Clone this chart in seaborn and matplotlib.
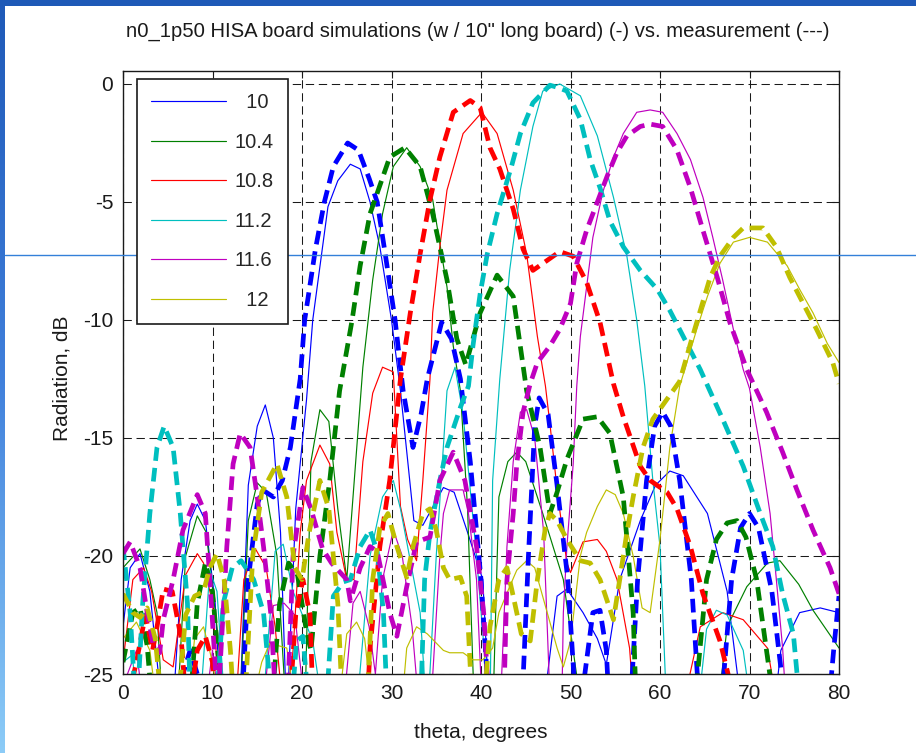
import numpy as np
import pandas as pd
import matplotlib
matplotlib.use('Agg')
import matplotlib.pyplot as plt
import seaborn as sns
from matplotlib.patches import Rectangle
from matplotlib.lines import Line2D
from matplotlib.colors import LinearSegmentedColormap

# ---------------- data (theta [deg], radiation [dB]) ----------------
freqs = ["10", "10.4", "10.8", "11.2", "11.6", "12"]
colors = [(0, 0, 1), (0, 0.5, 0), (1, 0, 0), (0, 0.75, 0.75), (0.75, 0, 0.75), (0.75, 0.75, 0)]

SIM_10 = [(0,-23),(0.8,-20.5),(1.9,-19.9),(3,-21.5),(4.5,-27),(5.5,-27),(6.5,-21),(7.5,-18.5),(8.3,-17.8),(9.2,-18.5),(10.3,-22),(11,-27),(13,-27),(14,-17),(15,-14.5),(15.9,-13.6),(16.8,-15),(17.6,-19),(18.3,-27),(19.3,-18),(20.5,-13.4),(21.2,-10),(22.9,-5.2),(24,-4.1),(25.4,-3.4),(26.5,-3.6),(27.6,-5),(28.7,-6.9),(30,-10),(31,-13),(32.5,-18.5),(33.5,-18.7),(34.5,-18),(35.8,-17.1),(37,-17.3),(38.5,-19),(40.2,-21),(41,-27),(46.8,-27),(48.5,-21.7),(49.6,-21.4),(51.4,-22.4),(53,-23.5),(54,-24.6),(55.5,-21),(57.8,-18.5),(59.5,-17),(61.1,-16.4),(62.6,-16.6),(65.3,-18.2),(67.5,-21.5),(69.3,-27),(72.6,-27),(73.5,-24),(75.6,-22.4),(77.9,-22.2),(80,-22.4)]
SIM_104 = [(0,-20.5),(1.9,-19.7),(3,-21),(3.8,-22.4),(4.5,-27),(6,-27),(7,-20),(8.3,-18.3),(9.3,-19),(10.5,-23),(11.5,-27),(13,-27),(14,-18.5),(15,-16.9),(16,-17.3),(17.2,-20),(18.3,-27),(20.3,-27),(21,-16),(22,-13.8),(23,-14.3),(24,-18),(25,-21),(26,-16),(26.8,-12),(27.9,-8.3),(29,-5.5),(30.2,-3.5),(31.7,-2.7),(33.2,-3.5),(34.6,-4.9),(36.2,-8.6),(36.9,-11.1),(37.7,-13),(38.5,-18),(39.3,-27),(41.3,-27),(42,-17.5),(43,-16),(44,-15.6),(45,-16),(46.9,-18.2),(49.2,-21),(51.4,-27),(66.3,-27),(67.5,-23),(69.7,-21.3),(72,-20.3),(73.4,-20.2),(75.5,-21.2),(77.1,-22.3),(80,-23.9)]
SIM_108 = [(0,-24.5),(1.1,-21),(2.3,-20.5),(3.2,-21.5),(4.5,-24.4),(5.6,-24.7),(7,-20.8),(8.3,-19.9),(9,-20.3),(10,-22),(11,-27),(12.5,-27),(13.5,-21),(14.8,-19.7),(16,-20.5),(17,-23),(18,-27),(19,-24),(19.8,-19),(20.5,-16.8),(22,-15.3),(23.1,-16.1),(23.9,-19),(25,-21),(25.8,-21),(26.8,-16),(27.9,-13.1),(29,-12),(30.2,-12.2),(31,-17.9),(31.8,-19.3),(32.8,-20.2),(33.5,-16.8),(34.3,-12.5),(34.6,-9.7),(35.4,-6.9),(36.2,-4.5),(38,-2.1),(40.1,-1.2),(41.8,-2.1),(43.6,-4.5),(45.1,-7.2),(46.3,-10.7),(47.2,-12.8),(47.7,-14.4),(48.6,-17.5),(49.6,-20.3),(50,-20.7),(51.4,-19.4),(53,-19.3),(54,-19.8),(55.2,-21),(56.6,-23.9),(57.2,-27),(62.2,-27),(64.5,-23),(67,-22.4),(69.3,-22.7),(72,-23.9),(73.4,-27),(80,-27)]
SIM_112 = [(0,-24.5),(1,-24.2),(2,-27),(8.5,-27),(9.7,-20.6),(10.5,-21.5),(11.5,-27),(15.5,-27),(17,-19.8),(17.9,-19.5),(19,-21.5),(21.2,-23.6),(22.5,-27),(26,-27),(27.6,-20),(29,-17.5),(30.2,-16.8),(31,-18),(32.1,-20.2),(33.2,-22.4),(34,-27),(35,-20),(36.2,-13),(37.1,-12),(38,-14),(39.5,-20),(41,-27),(41.3,-16.8),(42.1,-12.5),(43.2,-7.9),(44.4,-4.5),(45.8,-1.8),(46.9,-0.3),(48.8,0),(51.1,-0.5),(53,-2.2),(54.8,-4.8),(56.3,-7.3),(57.4,-10),(58.3,-12.8),(59.2,-16.8),(60,-19.6),(60.8,-27),(64.1,-27),(65.2,-23.1),(66.3,-22.3),(67.5,-22.5),(69.3,-24),(70.4,-27),(80,-27)]
SIM_116 = [(0,-25.5),(1.5,-24),(2.5,-27),(9,-27),(10,-24),(11,-27),(15.5,-27),(16.8,-22.1),(18,-22),(19.2,-22.5),(20.5,-27),(24.5,-27),(25.7,-22),(26.5,-21.5),(27.5,-23),(28.2,-25),(29,-21),(30.2,-18.9),(31.2,-20),(32.3,-23),(33.2,-27),(34.3,-27),(35.4,-20),(35.8,-18.2),(36.5,-17.2),(38,-17.2),(38.6,-18.2),(39.5,-21),(40.2,-27),(42.1,-27),(42.9,-19.6),(43.6,-16),(44.4,-13.9),(45.1,-13.8),(46,-15),(47,-19),(47.8,-27),(49,-27),(49.2,-22.4),(49.6,-19.6),(50.3,-16.1),(50.7,-12.8),(51.1,-10.7),(51.8,-8.6),(52.5,-6.5),(53.6,-4.6),(54.8,-3.1),(55.9,-2.1),(57.4,-1.2),(58.9,-1.1),(60.3,-1.2),(61.9,-2.1),(63.4,-3.2),(64.8,-4.8),(65.9,-6.5),(67,-8.3),(68.2,-10.4),(69.3,-12.1),(70,-12.9),(71.2,-15.4),(72.3,-18.2),(73,-21),(73.7,-23.9),(74.2,-27),(80,-27)]
SIM_12 = [(0,-23.5),(1.5,-22.8),(3,-24),(4,-27),(7,-27),(8,-23.5),(9,-23),(10,-24.5),(11,-27),(14,-27),(15.5,-24.5),(16.4,-23.7),(18.3,-23.9),(19.5,-27),(23.9,-27),(25,-23.3),(26.1,-22.8),(27,-23.5),(28,-27),(31,-27),(31.7,-23.9),(32.8,-23),(34,-23.3),(35.8,-24),(36.5,-24.1),(38,-24.1),(39.1,-24.4),(40.2,-24.4),(41.3,-23.9),(42,-22.4),(43.2,-21.3),(44,-20.6),(45.1,-20.2),(46,-20.5),(47.4,-22.4),(48.5,-23.9),(49.2,-24.7),(50,-23.6),(51.1,-20),(51.8,-19),(53,-17.9),(54,-17.2),(55,-17.4),(55.9,-18.2),(57,-20),(58,-22.2),(58.9,-22.4),(60,-19.3),(61.1,-15.4),(62.2,-12.8),(63,-11.8),(64.1,-10.4),(65.3,-9),(66.7,-7.6),(68.2,-6.7),(70,-6.5),(72,-6.7),(74.2,-7.7),(75.6,-8.7),(77.1,-9.7),(78.7,-11),(80,-11.8)]

MEAS_10 = [(6,-27),(6.7,-25),(7.5,-24),(8.3,-25),(9,-27),(13.2,-27),(14,-21),(15,-17.8),(15.6,-17.2),(16.8,-17.5),(17.8,-16.8),(18.7,-15.4),(19.8,-12.5),(20.3,-10),(21.5,-7),(22.5,-5),(23.5,-3.5),(25.1,-2.5),(26.3,-2.8),(27.5,-4),(28.4,-5),(29.3,-7.2),(30.4,-10),(31.3,-13),(32.4,-15.4),(33.3,-14),(34,-12.5),(35.6,-10.1),(36.7,-10.8),(37.7,-12.5),(38.8,-16),(40,-21),(41,-27),(44.5,-27),(45.3,-20),(46,-14.5),(46.5,-13.3),(47.5,-14),(48.5,-17),(49.7,-21),(50.7,-27),(51.6,-25),(52.5,-22.4),(53.3,-22.3),(54,-24),(54.4,-27),(56.6,-27),(57.5,-21),(58.5,-16.8),(59.4,-14.5),(60.3,-13.9),(61.2,-14.5),(62.2,-16.8),(63.5,-21),(64.5,-27),(66.7,-27),(68,-21),(69,-18.8),(70,-18.2),(71,-18.8),(72.5,-21.5),(74.2,-27),(78.7,-27),(79.4,-24),(80,-21.7)]
MEAS_104 = [(0,-24.5),(1.1,-22.4),(1.9,-22.2),(2.7,-23.8),(3.4,-27),(7.4,-27),(8.3,-22),(9.2,-20.3),(10,-21.5),(10.8,-25),(11.2,-27),(16.5,-27),(17.5,-22),(18.5,-20.3),(19.5,-20.8),(20.5,-23.2),(21,-24),(22,-20),(23.1,-16.8),(24.2,-13),(25.6,-10),(26.5,-7.7),(27.6,-5.5),(29.8,-3.1),(31.5,-2.7),(33.2,-3.5),(34.6,-5.5),(36.2,-8.3),(37.3,-10.8),(38.3,-11.9),(39.9,-9.7),(41.8,-8.1),(43.6,-9),(45.1,-13),(46.6,-15.4),(47.7,-18.2),(48.5,-17.3),(49.6,-15.9),(51.4,-14.2),(53,-14.1),(54.4,-14.8),(55.9,-17.5),(57,-22.4),(57.4,-27),(63.7,-27),(65.2,-21),(66.3,-19.3),(67.5,-18.6),(68.6,-18.5),(69.6,-19.2),(70.8,-21),(73,-27)]
MEAS_108 = [(0,-27),(1.5,-24.5),(2.5,-22.5),(3.3,-24),(3.8,-23),(4.5,-21.4),(5.5,-21.5),(6.5,-23.5),(7.2,-27),(8.3,-24),(9.2,-23.4),(10,-24.5),(10.5,-27),(18.5,-27),(19.3,-22.5),(20.1,-21),(20.9,-22.5),(21.3,-27),(27.2,-27),(27.6,-23.9),(28.7,-19.6),(29.8,-16.8),(31,-12.5),(32.1,-9.7),(33.2,-7.2),(34.3,-4.9),(35.4,-3.1),(36.9,-1.2),(38.8,-0.7),(39.9,-1),(41,-2.7),(42.1,-3.6),(43.6,-5.3),(44.7,-7),(45.8,-7.9),(47.3,-7.5),(48.8,-7.1),(50.3,-7.3),(51.8,-8.4),(53.3,-10.1),(54.8,-12.7),(55.9,-14.1),(57.8,-16.2),(58.9,-16.8),(60.8,-17.3),(61.9,-18),(63.4,-19.6),(64.8,-21.6),(66.7,-23.6),(68.9,-27)]
MEAS_112 = [(0,-19.6),(0.8,-22.4),(1.5,-27),(2.2,-22),(3,-18.2),(3.8,-15.4),(4.6,-14.5),(5.6,-15.4),(6.4,-18.2),(7.2,-22),(7.6,-27),(10.3,-27),(11.2,-22),(12.2,-20.5),(13.2,-20.2),(14.6,-21),(15.7,-22.4),(16.8,-27),(18.7,-27),(19.4,-23.6),(20.1,-23.4),(20.9,-27),(22.6,-27),(23.5,-21.7),(24.6,-21.1),(25.4,-21),(26.5,-19.6),(27.6,-18.9),(28.4,-19.8),(29.1,-22.4),(29.6,-27),(33.2,-27),(33.7,-21),(34.3,-19),(35.4,-16.8),(36.2,-15.4),(37.7,-13.7),(38.6,-12.8),(39.1,-11.1),(39.9,-8.9),(40.7,-7.2),(41.8,-5.5),(43.4,-3.5),(44.4,-2.1),(45.8,-0.8),(47.7,-0.05),(48.6,-0.15),(49.6,-0.3),(51.1,-1.5),(52.2,-3.2),(53.3,-4.4),(54.4,-5.8),(55.9,-6.9),(57.8,-7.9),(59.7,-8.7),(61.1,-9.6),(62.6,-10.7),(64.5,-12.1),(67,-14.2),(69.3,-16.2),(71.2,-18.2),(72.6,-19.6),(73.7,-21.6),(74.9,-23.3),(75.8,-27)]
MEAS_116 = [(0,-19.9),(0.8,-19.4),(1.9,-20.5),(2.7,-22.4),(3.4,-23.8),(4.1,-24.1),(4.5,-22.7),(5.6,-21),(6.7,-18.9),(8.3,-17.4),(9.2,-18.2),(9.7,-21),(10.2,-24),(10.5,-26),(10.8,-25),(11.6,-19.6),(12.3,-16.1),(13.1,-14.8),(14.2,-15.4),(15,-17.5),(15.7,-19.6),(16.5,-22.4),(17.2,-27),(18.3,-27),(19,-20),(20.1,-17.1),(21,-18),(22.3,-19.7),(23.3,-20.3),(25,-21),(25.4,-21.9),(26.5,-20.5),(27.6,-19.6),(28.4,-19.8),(29.8,-22.4),(30.6,-23.4),(31.7,-21.3),(32.8,-19.4),(34.3,-19.2),(35.4,-16.8),(36.9,-15.6),(38.2,-16.8),(39.5,-19.6),(40.3,-22.4),(41,-27),(42.5,-27),(42.9,-21),(43.6,-18.2),(44,-16.1),(44.7,-13.9),(45.5,-12.7),(46.3,-11.8),(47.7,-11.1),(48.8,-10.4),(50,-9.3),(50.7,-7.6),(51.8,-6.2),(53,-5),(54.1,-3.9),(55.2,-2.9),(56.3,-2.2),(57.8,-1.8),(58.9,-1.7),(60.3,-1.8),(61.9,-2.8),(63.4,-4.4),(64.8,-6.2),(66.4,-8.2),(67.8,-10.1),(69.7,-12.1),(71.9,-13.9),(73.7,-15.6),(75.3,-17.2),(77.1,-18.9),(79,-20.5),(80,-21.6)]
MEAS_12 = [(0,-21.6),(1.1,-22.4),(1.9,-22.6),(2.7,-22.2),(3.6,-23.5),(4.5,-27),(6,-27),(7,-22.5),(8,-21.7),(9,-21.5),(9.7,-20.5),(10.5,-19.9),(11.3,-21),(12,-24),(12.5,-27),(13.5,-27),(14.5,-20),(15.5,-17.3),(17.2,-16.1),(18.3,-17.5),(19.2,-20.5),(20,-21),(20.8,-19),(22,-16.8),(23,-18),(24,-22),(24.6,-27),(27.2,-27),(27.9,-21),(28.7,-18.8),(29.6,-18.2),(30.6,-19.6),(31.7,-20.9),(32.4,-19.6),(33.5,-18.2),(34.3,-18),(35,-18.9),(35.8,-20.5),(36.5,-21),(37.7,-20.9),(38.4,-21.7),(39.1,-27),(40.2,-27),(41,-23),(42,-21),(42.9,-20.5),(43.6,-21.7),(44.5,-23.3),(45.5,-23.6),(46.3,-21),(47.2,-18.8),(47.7,-18.2),(48.5,-18.5),(49.6,-19.3),(51.1,-20.2),(52.2,-20.3),(53.3,-21),(54.8,-22.7),(55.5,-21),(56.3,-19),(57,-17.5),(58.1,-15.4),(59.2,-14.2),(60.7,-13.4),(62.2,-12.6),(63.4,-11),(64.5,-9.6),(65.6,-8.2),(66.7,-7.3),(68.2,-6.5),(69.3,-6.1),(70.4,-6.1),(71.5,-6.1),(73,-6.9),(74.5,-8.2),(76,-9.3),(77.5,-10.4),(79.3,-11.8),(80,-12.7)]

sim_series = [SIM_10, SIM_104, SIM_108, SIM_112, SIM_116, SIM_12]
meas_series = [MEAS_10, MEAS_104, MEAS_108, MEAS_112, MEAS_116, MEAS_12]

x_ticks = [0, 10, 20, 30, 40, 50, 60, 70, 80]
y_ticks = [-25, -20, -15, -10, -5, 0]
title = 'n0_1p50 HISA board simulations (w / 10" long board) (-) vs. measurement (---)'
xlabel = 'theta, degrees'
ylabel = 'Radiation, dB'

# ---------------- figure ----------------
sns.set_theme(style='white')
plt.rcParams['font.family'] = ['Liberation Sans', 'DejaVu Sans']

W, H = 916, 753
fig = plt.figure(figsize=(W / 100, H / 100), dpi=100)
fig.patch.set_facecolor('white')

# slide-like background
bg = fig.add_axes([0, 0, 1, 1], zorder=-10)
grad = np.linspace(0, 1, 256).reshape(-1, 1)
cmap = LinearSegmentedColormap.from_list('bg', [(0.12, 0.35, 0.72), (0.25, 0.5, 0.86), (0.55, 0.8, 0.97)])
bg.imshow(grad, aspect='auto', cmap=cmap, extent=[0, 1, 0, 1])
bg.add_patch(Rectangle((5 / W, 0), 1 - 5 / W, 1 - 6 / H, transform=bg.transAxes,
                       facecolor='white', edgecolor='none'))
bg.set_xlim(0, 1); bg.set_ylim(0, 1)
bg.axis('off')

ax = fig.add_axes([123 / W, 1 - 674 / H, 716 / W, 603 / H])
ax.set_facecolor('white')

handles = []
for data, c in zip(sim_series, colors):
    df = pd.DataFrame(data, columns=['theta', 'dB'])
    sns.lineplot(data=df, x='theta', y='dB', ax=ax, color=c, linewidth=0.85,
                 estimator=None, sort=False, legend=False)
    handles.append(ax.lines[-1])

for data, c in zip(meas_series, colors):
    df = pd.DataFrame(data, columns=['theta', 'dB'])
    sns.lineplot(data=df, x='theta', y='dB', ax=ax, color=c, linewidth=3.4,
                 estimator=None, sort=False, legend=False)
    ln = ax.lines[-1]
    ln.set_linestyle((0, (2.9, 1.5)))
    ln.set_dash_capstyle('butt')

ax.set_xlim(0, 80)
ax.set_ylim(-25, 0.55)
ax.set_xticks(x_ticks)
ax.set_yticks(y_ticks)
ax.set_xticklabels([str(t) for t in x_ticks])
ax.set_yticklabels([str(t) for t in y_ticks])
ax.set_xlabel('')
ax.set_ylabel('')
ax.grid(True, color='k', linestyle=(0, (8, 4.5)), linewidth=0.75)
ax.set_axisbelow(True)
for s in ax.spines.values():
    s.set_visible(True)
    s.set_color('k')
    s.set_linewidth(1.0)
ax.tick_params(direction='in', length=5, width=0.8, top=True, right=True,
               labelsize=15, colors='k', pad=7)

# slide guide line crossing the picture
guide = Line2D([5 / W, 1], [1 - 255 / H, 1 - 255 / H], transform=fig.transFigure,
               color=(0.2, 0.5, 0.85), linewidth=1.0, clip_on=False, zorder=2.6)
ax.add_artist(guide)

labels = ['  ' + f if len(f) == 2 else f for f in freqs]
leg = ax.legend(handles, labels, loc='upper left', bbox_to_anchor=(137 / W, 1 - 79 / H),
                bbox_transform=fig.transFigure, borderaxespad=0, fontsize=14.5,
                handlelength=3.7, handletextpad=0.45, labelspacing=1.02,
                borderpad=0.7, fancybox=False, framealpha=1, edgecolor='k')
leg.get_frame().set_linewidth(1.2)
leg.set_zorder(10)

fig.text(478 / W, 1 - 31 / H, title, ha='center', va='center', fontsize=14.6, color='k')
fig.text(481 / W, 1 - 733 / H, xlabel, ha='center', va='center', fontsize=15, color='k')
fig.text(62 / W, 1 - 378 / H, ylabel, ha='center', va='center', rotation=90, fontsize=15, color='k')

fig.savefig('out.png', dpi=100)
